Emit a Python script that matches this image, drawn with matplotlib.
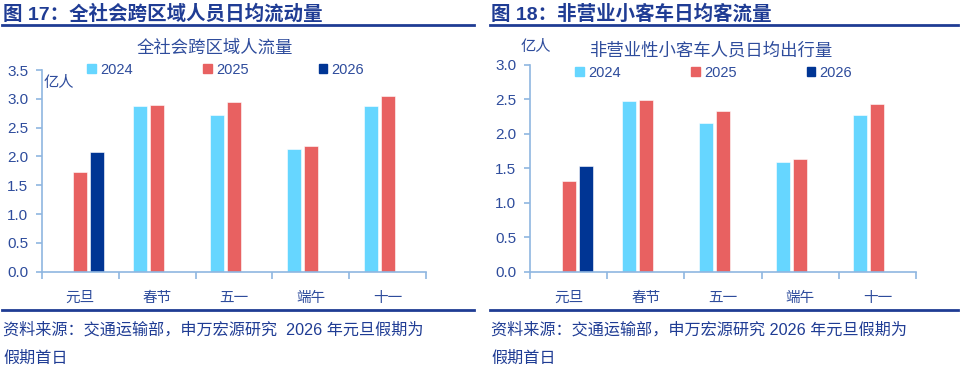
import matplotlib
matplotlib.use('agg')
import matplotlib.pyplot as plt
from matplotlib.patches import Patch
import numpy as np

plt.rcParams['font.family'] = ['Liberation Sans', 'Noto Sans CJK SC', 'DejaVu Sans']

cats = ['元旦', '春节', '五一', '端午', '十一']
years = ['2024', '2025', '2026']

# 全社会跨区域人流量 (亿人)
flow_2024 = [np.nan, 2.87, 2.72, 2.13, 2.87]
flow_2025 = [1.73, 2.89, 2.94, 2.18, 3.05]
flow_2026 = [2.08, np.nan, np.nan, np.nan, np.nan]

# 非营业性小客车人员日均出行量 (亿人)
car_2024 = [np.nan, 2.47, 2.16, 1.59, 2.27]
car_2025 = [1.31, 2.49, 2.33, 1.63, 2.43]
car_2026 = [1.53, np.nan, np.nan, np.nan, np.nan]

colors = ['#66D6FF', '#E86161', '#003594']
navy = '#1F3C94'
tickc = '#2E4C9C'
axc = '#8FB6E0'

fig = plt.figure(figsize=(9.6, 3.7), dpi=100)


def draw(ax, series, ymax, title, title_xy, unit_xy, leg_anchor):
    x = np.arange(len(cats))
    offs = [-0.22, 0.0, 0.22]
    for s, off, c in zip(series, offs, colors):
        ax.bar(x + off, s, width=0.18, color=c, edgecolor='white', linewidth=0.4)
    ax.set_xlim(-0.5, len(cats) - 0.5)
    ax.set_ylim(0, ymax)
    ax.set_yticks(np.arange(0, ymax + 0.01, 0.5))
    ax.set_yticklabels([f'{v:.1f}' for v in np.arange(0, ymax + 0.01, 0.5)])
    ax.set_xticks(np.arange(-0.5, len(cats), 1.0))
    ax.set_xticklabels([])
    ax.set_xticks(x, minor=True)
    ax.set_xticklabels(cats, minor=True)
    ax.tick_params(axis='x', which='minor', length=0, pad=14, labelsize=10.5, labelcolor=tickc)
    ax.tick_params(axis='x', which='major', length=5, color=axc, width=1.2)
    ax.tick_params(axis='y', length=4, color=axc, width=1.2, labelsize=11, labelcolor=tickc, pad=6)
    for sp in ['top', 'right']:
        ax.spines[sp].set_visible(False)
    for sp in ['left', 'bottom']:
        ax.spines[sp].set_color(axc)
        ax.spines[sp].set_linewidth(1.2)
    fig.text(title_xy[0], title_xy[1], title, ha='center', va='center', fontsize=12.5, color=tickc)
    fig.text(unit_xy[0], unit_xy[1], '亿人', ha='left', va='center', fontsize=11, color=tickc)
    handles = [Patch(color=c) for c in colors]
    fig.legend(handles, years, ncol=3, loc='center left', bbox_to_anchor=leg_anchor,
               frameon=False, fontsize=10.5, handlelength=0.6, handleheight=0.6,
               handletextpad=0.3, columnspacing=4.8, labelcolor=tickc)


ax1 = fig.add_axes([42 / 960, 98.3 / 370, 384 / 960, 201.7 / 370])
draw(ax1, [flow_2024, flow_2025, flow_2026], 3.5, '全社会跨区域人流量',
     (215 / 960, 1 - 48 / 370), (44 / 960, 1 - 83 / 370), (74 / 960, 1 - 70 / 370))

ax2 = fig.add_axes([530 / 960, 98.3 / 370, 386 / 960, 207.2 / 370])
draw(ax2, [car_2024, car_2025, car_2026], 3.0, '非营业性小客车人员日均出行量',
     (711 / 960, 1 - 50 / 370), (521 / 960, 1 - 47 / 370), (562 / 960, 1 - 73 / 370))

# headings, rules and notes
fig.text(3 / 960, 1 - 14 / 370, '图 17：全社会跨区域人员日均流动量', fontsize=14, fontweight='bold',
         color=navy, va='center', ha='left')
fig.text(491 / 960, 1 - 14 / 370, '图 18：非营业小客车日均客流量', fontsize=14, fontweight='bold',
         color=navy, va='center', ha='left')
for x0, x1 in [(2, 474), (490, 958)]:
    for y in [25, 310]:
        fig.add_artist(plt.Line2D([x0 / 960, x1 / 960], [1 - y / 370, 1 - y / 370],
                                  color=navy, lw=2, transform=fig.transFigure))
note1 = '资料来源：交通运输部，申万宏源研究  2026 年元旦假期为'
note2 = '资料来源：交通运输部，申万宏源研究 2026 年元旦假期为'
for xx, nt in [(3, note1), (491, note2)]:
    fig.text(xx / 960, 1 - 330 / 370, nt, fontsize=11.6, color=navy, va='center', ha='left')
    fig.text(xx / 960, 1 - 358 / 370, '假期首日', fontsize=11.6, color=navy, va='center', ha='left')

plt.savefig('out.png', dpi=100)
